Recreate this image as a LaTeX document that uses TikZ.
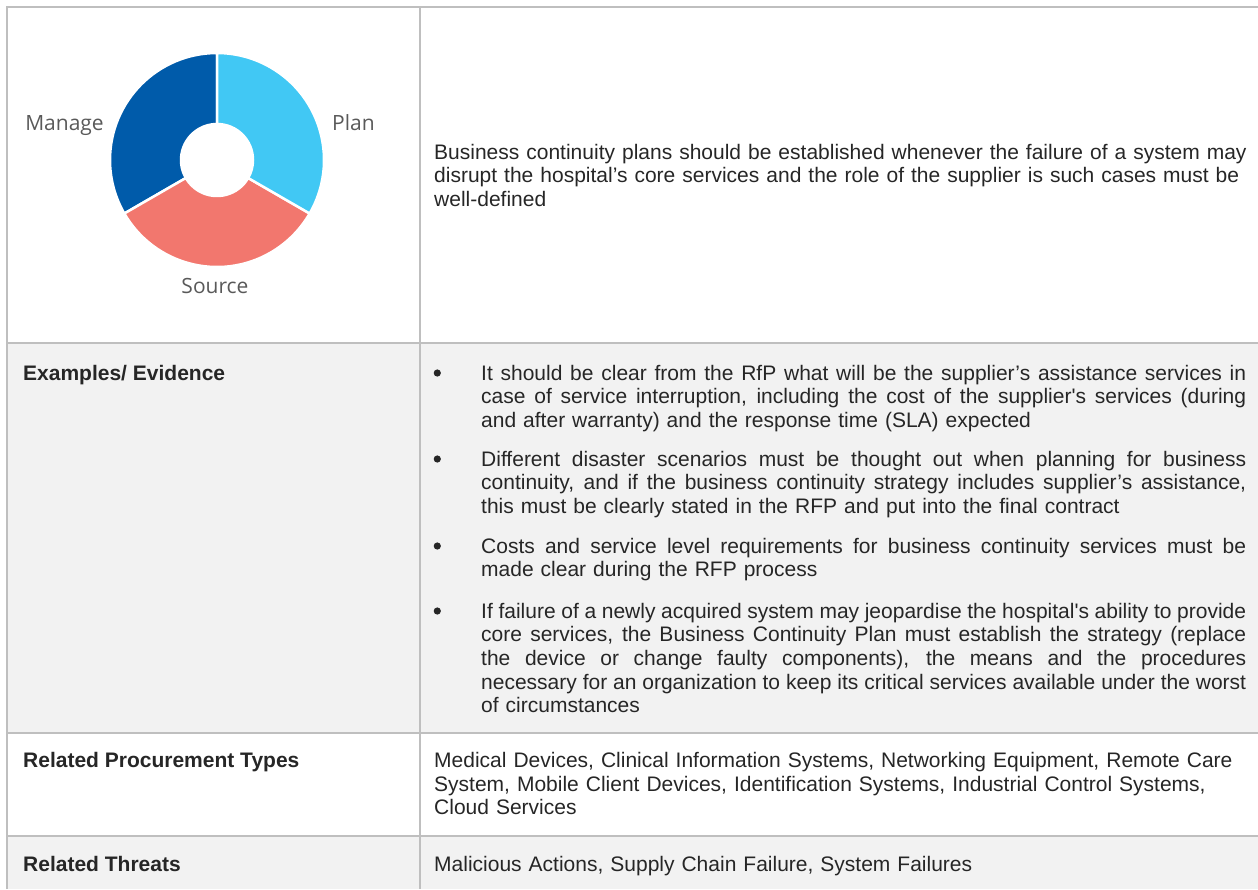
\documentclass[tikz,border=0pt]{standalone}
\usepackage{fontspec}
\setmainfont{Liberation Sans}
\newfontfamily\chartfont{Open Sans}
\definecolor{inkgray}{HTML}{262626}
\definecolor{rulegray}{HTML}{BFBFBF}
\definecolor{rowgray}{HTML}{F2F2F2}
\definecolor{planblue}{HTML}{41C8F4}
\definecolor{sourcered}{HTML}{F2776E}
\definecolor{manageblue}{HTML}{005BAA}
\definecolor{labelgray}{HTML}{595959}
\newcommand{\jline}[1]{\makebox[\linewidth][s]{\spaceskip=0pt\xspaceskip=0pt #1}}
\tikzset{
	cell/.style={anchor=base west, inner sep=0pt, text=inkgray, align=left, font=\fontsize{21}{23.7}\selectfont},
	head/.style={cell, font=\fontsize{21}{23.7}\selectfont\bfseries},
	rule/.style={draw=rulegray, line width=1.5pt},
	slice/.style={draw=white, line width=2.5pt},
	tag/.style={anchor=base, inner sep=0pt, text=labelgray, font=\chartfont\fontsize{21}{24}\selectfont}
}

\begin{document}
\begin{tikzpicture}[x=1pt, y=1pt]
		\useasboundingbox (0,0) rectangle (1258,-889);
		
		% Row shading and table rules
		\fill[rowgray] (7,-343) rectangle (1258,-733);
		\fill[rowgray] (7,-836) rectangle (1258,-889);
		\draw[rule] (7,-889) -- (7,-7) -- (1258,-7);
		\draw[rule] (420,-7) -- (420,-889);
		\foreach \y in {343,733,836}
			\draw[rule] (7,-\y) -- (1258,-\y);
		
		% Donut chart
		\coordinate (hub) at (217,-160);
		\foreach \a/\b/\col in {90/210/manageblue, 210/330/sourcered, -30/90/planblue}
			\filldraw[slice, fill=\col] (hub) ++(\a:107) arc[start angle=\a, end angle=\b, radius=107]
				-- ([shift={(\b:36)}]hub) arc[start angle=\b, end angle=\a, radius=36] -- cycle;
		\node[tag] (manage) at (64.5,-130) {Manage};
		\node[tag] (plan) at (353.5,-130) {Plan};
		\node[tag] (source) at (215,-293) {Source};
		
		% Statement
		\node[cell, text width=824pt] (statement) at (434,-159) {Business continuity plans should be established whenever the failure of a system may\\disrupt the hospital’s core services and the role of the supplier is such cases must be\\well-defined};
		
		% Examples / evidence
		\node[head] (examples) at (23,-380) {Examples/ Evidence};
		\foreach \y in {380,466,553,618}
			\fill[inkgray] (437.3,{-\y+7}) circle (3.6);
		\node[cell, text width=765pt] (bulletA) at (481,-380) {\jline{It should be clear from the RfP what will be the supplier’s assistance services in}\\\jline{case of service interruption, including the cost of the supplier\textquotesingle s services (during}\\and after warranty) and the response time (SLA) expected};
		\node[cell, text width=765pt] (bulletB) at (481,-466) {\jline{Different disaster scenarios must be thought out when planning for business}\\\jline{continuity, and if the business continuity strategy includes supplier’s assistance,}\\this must be clearly stated in the RFP and put into the final contract};
		\node[cell, text width=765pt] (bulletC) at (481,-553) {\jline{Costs and service level requirements for business continuity services must be}\\made clear during the RFP process};
		\node[cell, text width=765pt] (bulletD) at (481,-618) {\jline{If failure of a newly acquired system may jeopardise the hospital\textquotesingle s ability to provide}\\\jline{core services, the Business Continuity Plan must establish the strategy (replace}\\\jline{the device or change faulty components), the means and the procedures}\\\jline{necessary for an organization to keep its critical services available under the worst}\\of circumstances};
		
		% Procurement types
		\node[head] (procurement) at (23,-767.5) {Related Procurement Types};
		\node[cell, text width=824pt] (types) at (434,-767.5) {Medical Devices, Clinical Information Systems, Networking Equipment, Remote Care\\System, Mobile Client Devices, Identification Systems, Industrial Control Systems,\\Cloud Services};
		
		% Threats
		\node[head] (threats) at (23,-871.5) {Related Threats};
		\node[cell, text width=824pt] (threatlist) at (434,-871.5) {Malicious Actions, Supply Chain Failure, System Failures};
	\end{tikzpicture}
\end{document}
